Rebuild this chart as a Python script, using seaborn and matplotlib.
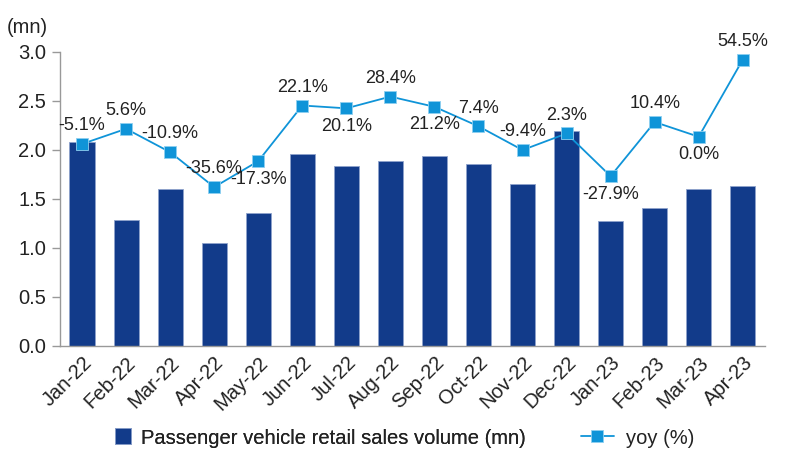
import matplotlib
matplotlib.use("Agg")
import matplotlib.pyplot as plt
import numpy as np
import pandas as pd
import seaborn as sns
from matplotlib.lines import Line2D
from matplotlib.ticker import FixedLocator

MONTHS = ["Jan-22", "Feb-22", "Mar-22", "Apr-22", "May-22", "Jun-22", "Jul-22", "Aug-22",
          "Sep-22", "Oct-22", "Nov-22", "Dec-22", "Jan-23", "Feb-23", "Mar-23", "Apr-23"]
SALES_MN = [2.08, 1.29, 1.60, 1.05, 1.36, 1.96, 1.84, 1.89,
            1.94, 1.86, 1.65, 2.19, 1.28, 1.41, 1.60, 1.63]
YOY_PCT = [-5.1, 5.6, -10.9, -35.6, -17.3, 22.1, 20.1, 28.4,
           21.2, 7.4, -9.4, 2.3, -27.9, 10.4, 0.0, 54.5]
# labels that sit under their marker instead of above
LABEL_BELOW = {"May-22", "Jul-22", "Sep-22", "Jan-23", "Mar-23"}

BAR_COLOR = "#123b8a"
LINE_COLOR = "#0f94d8"
TEXT_COLOR = "#222222"
FS = 14.5
LABEL_FS = 13


def main() -> None:
    sns.set_style("white")
    plt.rcParams["font.family"] = ["Liberation Sans", "DejaVu Sans"]

    df = pd.DataFrame({"month": MONTHS, "sales": SALES_MN, "yoy": YOY_PCT})

    fig = plt.figure(figsize=(8, 4.72), dpi=100)
    ax = fig.add_axes([0.075, 0.267, 0.881, 0.623])

    sns.barplot(data=df, x="month", y="sales", color=BAR_COLOR, width=0.57,
                edgecolor="#8fa3cc", linewidth=0.6, saturation=1, ax=ax)
    ax.set_ylim(0, 3.0)
    ax.set_xlim(-0.5, len(MONTHS) - 0.5)
    ax.set_yticks(np.arange(0, 3.01, 0.5))
    ax.set_yticklabels([f"{v:.1f}" for v in np.arange(0, 3.01, 0.5)])
    ax.set_xlabel("")
    ax.set_ylabel("")

    # ticks between categories on the x axis
    ax.xaxis.set_minor_locator(FixedLocator(np.arange(-0.5, len(MONTHS), 1.0)))
    ax.tick_params(axis="x", which="major", length=0, labelsize=FS, colors=TEXT_COLOR, pad=5)
    ax.tick_params(axis="x", which="minor", length=7, width=1, color="#999999", direction="out")
    ax.tick_params(axis="y", length=6, width=1, color="#999999", direction="out",
                   labelsize=FS, labelcolor=TEXT_COLOR, pad=4)
    plt.setp(ax.get_xticklabels(), rotation=45, ha="right", rotation_mode="anchor")

    sns.despine(ax=ax)
    for side in ("left", "bottom"):
        ax.spines[side].set_color("#999999")
        ax.spines[side].set_linewidth(1)

    ax2 = ax.twinx()
    sns.lineplot(x=np.arange(len(MONTHS)), y=df["yoy"], color=LINE_COLOR, linewidth=1.3,
                 marker="s", markersize=9, markerfacecolor=LINE_COLOR,
                 markeredgecolor="#8ed0f0", markeredgewidth=0.6, ax=ax2)
    ax2.set_ylim(-148, 60)
    ax2.set_axis_off()

    for i, (m, v) in enumerate(zip(MONTHS, YOY_PCT)):
        below = m in LABEL_BELOW
        ax2.annotate(f"{v:.1f}%", (i, v), xytext=(0, -7 if below else 7),
                     textcoords="offset points", ha="center",
                     va="top" if below else "bottom", fontsize=LABEL_FS, color=TEXT_COLOR)

    fig.text(0.008, 0.93, "(mn)", fontsize=FS, color=TEXT_COLOR)

    bar_handle = Line2D([0], [0], linestyle="none", marker="s", markersize=12,
                        markerfacecolor=BAR_COLOR, markeredgecolor="#8fa3cc", markeredgewidth=0.6)
    line_handle = Line2D([0], [0], color=LINE_COLOR, linewidth=1.3, marker="s", markersize=9,
                         markerfacecolor=LINE_COLOR, markeredgecolor="#8ed0f0", markeredgewidth=0.6)
    leg1 = fig.legend([bar_handle], ["Passenger vehicle retail sales volume (mn)"],
                      loc="center left", bbox_to_anchor=(0.12, 0.072), frameon=False,
                      fontsize=FS, handlelength=0.9, handletextpad=0.45, labelcolor=TEXT_COLOR)
    fig.add_artist(leg1)
    fig.legend([line_handle], ["yoy (%)"], loc="center left", bbox_to_anchor=(0.703, 0.072),
               frameon=False, fontsize=FS, handlelength=1.65, handletextpad=0.6,
               labelcolor=TEXT_COLOR)

    fig.savefig("out.png", dpi=100)
    plt.close(fig)


if __name__ == "__main__":
    main()
